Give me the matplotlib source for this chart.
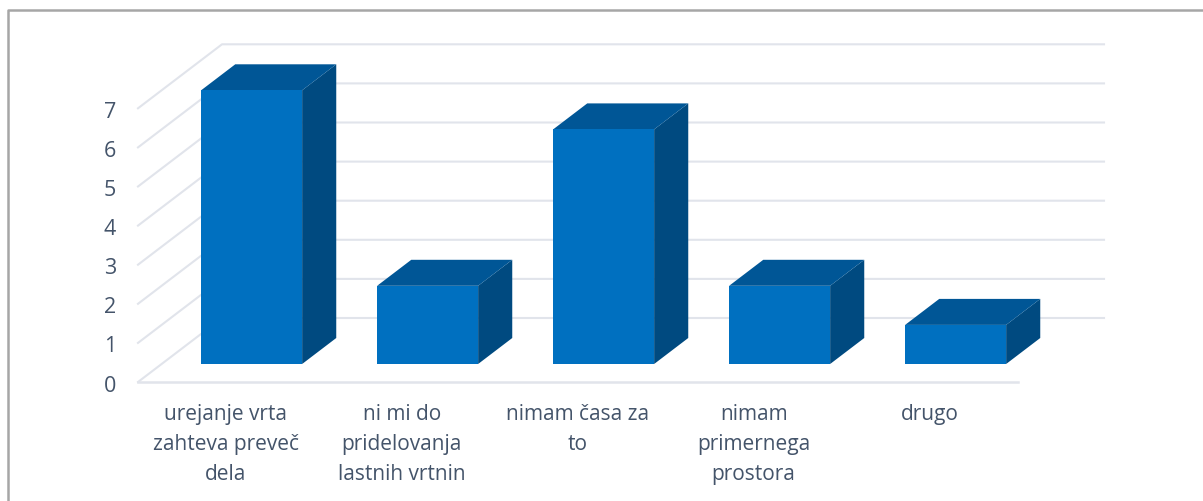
import matplotlib
matplotlib.use('Agg')
import matplotlib.pyplot as plt
from matplotlib.patches import Polygon

categories = ['urejanje vrta\nzahteva preveč\ndela', 'ni mi do\npridelovanja\nlastnih vrtnin',
              'nimam časa za\nto', 'nimam\nprimernega\nprostora', 'drugo']
values = [7, 2, 6, 2, 1]
y_ticks = [0, 1, 2, 3, 4, 5, 6, 7]

# fake 3d: depth 0 is the front of the floor, depth 1 the back wall
PX_X = 176.0    # px for one category
PX_Y = 39.1     # px for one unit
DX = 84 / PX_X
DY = 64 / PX_Y
BAR_W = 101 / PX_X
BAR_SHIFT = 2 / PX_X
D_FRONT = 18 / 64
D_BACK = 44 / 64


def pt(x, y, d=0.0):
    return (x + d * DX, y + d * DY)


fig = plt.figure(figsize=(12.03, 5.01), dpi=100)
ax = fig.add_axes([0, 0, 1, 1])
ax.set_xlim(-138 / PX_X, (1203 - 138) / PX_X)
ax.set_ylim((382 - 501) / PX_Y, 382 / PX_Y)
ax.axis('off')

# walls
grid_c = '#e1e4eb'
wall_end = 5 + BAR_SHIFT
for t in y_ticks:
    ax.plot(*zip(pt(0, t), pt(0, t, 1), pt(wall_end, t, 1)), color=grid_c, lw=1.5, zorder=1)
ax.plot(*zip(pt(0, 0), pt(5, 0)), color=grid_c, lw=1.8, zorder=1)

# bars
for i, v in enumerate(values):
    x0 = i + 0.5 - BAR_W / 2 + BAR_SHIFT
    x1 = x0 + BAR_W
    side = [pt(x1, 0, D_FRONT), pt(x1, 0, D_BACK), pt(x1, v, D_BACK), pt(x1, v, D_FRONT)]
    top = [pt(x0, v, D_FRONT), pt(x1, v, D_FRONT), pt(x1, v, D_BACK), pt(x0, v, D_BACK)]
    front = [pt(x0, 0, D_FRONT), pt(x1, 0, D_FRONT), pt(x1, v, D_FRONT), pt(x0, v, D_FRONT)]
    ax.add_patch(Polygon(side, color='#004a80', lw=0, zorder=3))
    ax.add_patch(Polygon(top, color='#005696', lw=0, zorder=3))
    ax.add_patch(Polygon(front, color='#0070c0', lw=0, zorder=4))

# labels
for t in y_ticks:
    ax.text(-22 / PX_X, t - 4 / PX_Y, str(t), ha='right', va='center', fontsize=15.5,
            color='#44546a', family='Open Sans')
for i, c in enumerate(categories):
    ax.text(i + 0.5 - 0.002, -22 / PX_Y, c, ha='center', va='top', fontsize=15, color='#44546a',
            family='Open Sans', linespacing=1.55)

# frame of the pasted picture, runs off the right edge
ax.plot(*zip((-130 / PX_X, -119 / PX_Y), (-130 / PX_X, 372 / PX_Y), (1065 / PX_X, 372 / PX_Y)),
        color='#a6a6a6', lw=1.8, zorder=5)

fig.savefig('out.png', dpi=100)
